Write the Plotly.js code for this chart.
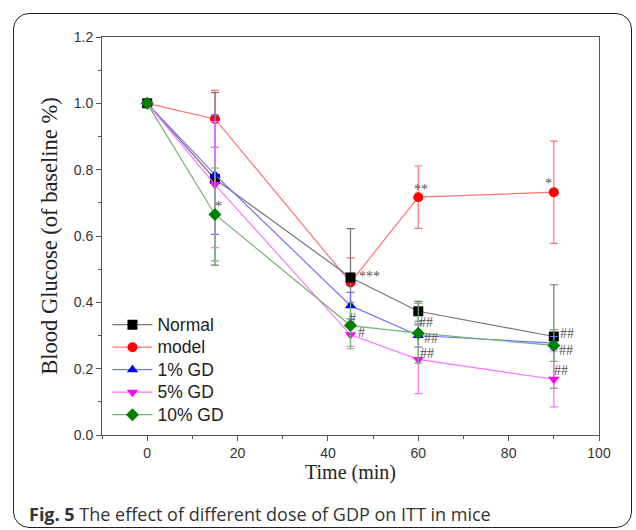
<!DOCTYPE html>
<html>
<head>
<meta charset="utf-8">
<script src="https://cdn.plot.ly/plotly-3.0.1.min.js"></script>
<style>
  html, body { margin:0; padding:0; background:#fff; }
  #wrap { position:relative; width:636px; height:530px; overflow:hidden; }
  #frame { position:absolute; left:13px; top:13px; width:617px; height:513px; border:1.5px solid #222; border-radius:16px; pointer-events:none; }
  #chart { position:absolute; left:0; top:0; width:636px; height:530px; }
</style>
</head>
<body>
<div id="wrap">
  <div id="chart"></div>
  <div id="frame"></div>
</div>
<script>
// ---- data ----
const time = [0, 15, 45, 60, 90];
const normal    = [1.0, 0.772, 0.475, 0.373, 0.297];
const normalErr = [0, 0.26, 0.147, 0.03, 0.156];
const model     = [1.0, 0.953, 0.46, 0.717, 0.732];
const modelErr  = [0, 0.086, 0.074, 0.094, 0.154];
const gd1       = [1.0, 0.785, 0.39, 0.30, 0.277];
const gd1Err    = [0, 0.18, 0.04, 0.035, 0.02];
const gd5       = [1.0, 0.755, 0.302, 0.228, 0.168];
const gd5Err    = [0, 0.19, 0.035, 0.103, 0.083];
const gd10      = [1.0, 0.665, 0.33, 0.307, 0.27];
const gd10Err   = [0, 0.14, 0.07, 0.09, 0.048];
const seriesNames = ["Normal", "model", "1% GD", "5% GD", "10% GD"];

const xTickVals = [0, 20, 40, 60, 80, 100];
const yTickVals = [0.0, 0.2, 0.4, 0.6, 0.8, 1.0, 1.2];

// significance marks
const markText = ["*", "***", "#", "#", "##", "##", "##", "**", "*", "##", "##", "##"];
const markX    = [15.8, 49.1, 45.4, 47.4, 61.6, 62.8, 61.9, 60.6, 88.9, 93.0, 92.7, 91.5];
const markY    = [0.69, 0.477, 0.35, 0.308, 0.338, 0.292, 0.247, 0.74, 0.758, 0.305, 0.255, 0.193];

const caption = "<b>Fig. 5</b> The effect of different dose of GDP on ITT in mice";

// ---- styles ----
const lineColors   = ["#777777", "#ff7373", "#7373ff", "#ff73ff", "#73b373"];
const markerColors = ["#000000", "#ff0000", "#0000ff", "#ff00ff", "#008000"];
const symbols      = ["square", "circle", "triangle-up", "triangle-down", "diamond"];
const values = [normal, model, gd1, gd5, gd10];
const errs   = [normalErr, modelErr, gd1Err, gd5Err, gd10Err];
const drawOrder = [1, 0, 2, 3, 4];

const traces = drawOrder.map(i => ({
  type: "scatter",
  mode: "lines+markers",
  x: time,
  y: values[i],
  name: '<span style="font-size:17.5px">' + seriesNames[i] + '</span>',
  legendrank: i + 1,
  line: { color: lineColors[i], width: 1.2 },
  marker: { symbol: symbols[i], color: markerColors[i], size: 10, line: { width: 0 } },
  error_y: { type: "data", array: errs[i], visible: true, color: lineColors[i], thickness: 1.2, width: 4 }
}));

const annotations = markText.map((t, k) => ({
  x: markX[k], y: markY[k], xref: "x", yref: "y", text: t, showarrow: false,
  font: { family: "Liberation Serif, serif", size: 14, color: "#555" }
}));
annotations.push({
  xref: "paper", yref: "paper", x: -0.151, y: -0.199, xanchor: "left", yanchor: "middle",
  text: caption, showarrow: false,
  font: { family: "Open Sans, sans-serif", size: 18, color: "#333" }
});

const tickFont = { family: "Liberation Sans, Arial, sans-serif", size: 14, color: "#333" };

const layout = {
  width: 636, height: 530,
  margin: { l: 102, r: 37, t: 37, b: 95 },
  paper_bgcolor: "rgba(0,0,0,0)",
  plot_bgcolor: "#ffffff",
  showlegend: true,
  legend: {
    x: 0.011, y: 0.318, xanchor: "left", yanchor: "top",
    bgcolor: "rgba(0,0,0,0)", borderwidth: 0,
    font: { family: "Liberation Sans, Arial, sans-serif", size: 15, color: "#222" },
    itemwidth: 40, tracegroupgap: 0
  },
  xaxis: {
    range: [-10, 100], tickvals: xTickVals, ticks: "outside", ticklen: 5, tickcolor: "#555",
    showline: true, linecolor: "#555", linewidth: 1, mirror: true, showgrid: false, zeroline: false,
    tickfont: tickFont,
    minor: { dtick: 10, tick0: 0, ticks: "outside", ticklen: 3, tickcolor: "#555", showgrid: false },
    title: { text: "Time (min)", font: { family: "Liberation Serif, serif", size: 20, color: "#222" }, standoff: 4 }
  },
  yaxis: {
    range: [0, 1.2], tickvals: yTickVals, tickformat: ".1f", ticks: "outside", ticklen: 5, tickcolor: "#555",
    showline: true, linecolor: "#555", linewidth: 1, mirror: true, showgrid: false, zeroline: false,
    tickfont: tickFont,
    minor: { dtick: 0.1, tick0: 0, ticks: "outside", ticklen: 3, tickcolor: "#555", showgrid: false },
    title: { text: "Blood Glucose (of baseline %)", font: { family: "Liberation Serif, serif", size: 22.5, color: "#222" }, standoff: 9 }
  },
  annotations: annotations
};

Plotly.newPlot("chart", traces, layout, { displayModeBar: false, staticPlot: true });
</script>
</body>
</html>
